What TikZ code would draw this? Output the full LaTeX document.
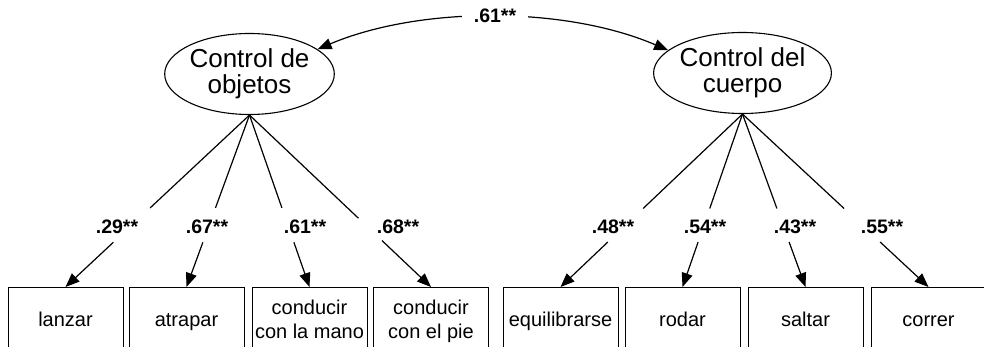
\documentclass[tikz,border=0pt]{standalone}
\usepackage{fontspec}
\setmainfont{Liberation Sans}
\usetikzlibrary{shapes.geometric,arrows.meta,calc}
\begin{document}
\begin{tikzpicture}[x=1pt,y=-1pt,
  lat/.style={ellipse,draw,line width=1.1pt,minimum width=161pt,minimum height=81pt,inner sep=0pt,align=center,font=\fontsize{26}{26}\selectfont},
  obs/.style={rectangle,draw,line width=1pt,minimum width=115pt,minimum height=69pt,inner sep=0pt,align=center,font=\fontsize{20}{23.5}\selectfont},
  coef/.style={font=\fontsize{19.5}{20}\bfseries\selectfont,inner sep=0pt},
  arr/.style={line width=1.2pt,-{Triangle[length=14pt,width=11pt]}},
  dbl/.style={line width=1.2pt,{Triangle[length=14pt,width=11pt]}-{Triangle[length=14pt,width=11pt]}},
  ln/.style={line width=1.2pt}]
\clip (0,0) rectangle (984,347);
% latent variables
\node[lat] (L) at (249.5,74) {Control de\\objetos};
\node[lat] (R) at (742.5,73) {Control del\\cuerpo};
% observed variables
\node[obs,anchor=north] (b1) at (65.5,287) {\strut lanzar};
\node[obs,anchor=north] (b2) at (186.5,287) {\strut atrapar};
\node[obs,anchor=north] (b3) at (309.5,287) {\strut conducir\\\strut con la mano};
\node[obs,anchor=north] (b4) at (431,287) {\strut conducir\\\strut con el pie};
\node[obs,anchor=north] (b5) at (560.5,287) {\strut equilibrarse};
\node[obs,anchor=north] (b6) at (682.5,287) {\strut rodar};
\node[obs,anchor=north] (b7) at (805.5,287) {\strut saltar};
\node[obs,anchor=north] (b8) at (928.5,287) {\strut correr};
% covariance
\coordinate (c1) at (420,6);
\coordinate (c2) at (565,6);
\draw[dbl] (L.20) .. controls (c1) and (c2) .. (R.163);
\node[coef,fill=white,inner xsep=12pt,inner ysep=3pt] (k0) at (495,15.5) {.61**};
% loadings
\foreach \e/\b/\p/\q in {L/b1/0.54/0.74, L/b2/0.54/0.74, L/b3/0.54/0.74, L/b4/0.6/0.73,
                         R/b5/0.546/0.74, R/b6/0.546/0.74, R/b7/0.546/0.74, R/b8/0.546/0.74}{
  \draw[ln] (\e.south) -- ($(\e.south)!\p!(\b.north)$);
  \draw[arr] ($(\e.south)!\q!(\b.north)$) -- (\b.north);
}
\node[coef] (k1) at (117,226.5) {.29**};
\node[coef] (k2) at (207,226.5) {.67**};
\node[coef] (k3) at (305,226.5) {.61**};
\node[coef] (k4) at (398,226.5) {.68**};
\node[coef] (k5) at (613,226.5) {.48**};
\node[coef] (k6) at (705,226.5) {.54**};
\node[coef] (k7) at (795,226.5) {.43**};
\node[coef] (k8) at (882,226.5) {.55**};
\end{tikzpicture}
\end{document}
